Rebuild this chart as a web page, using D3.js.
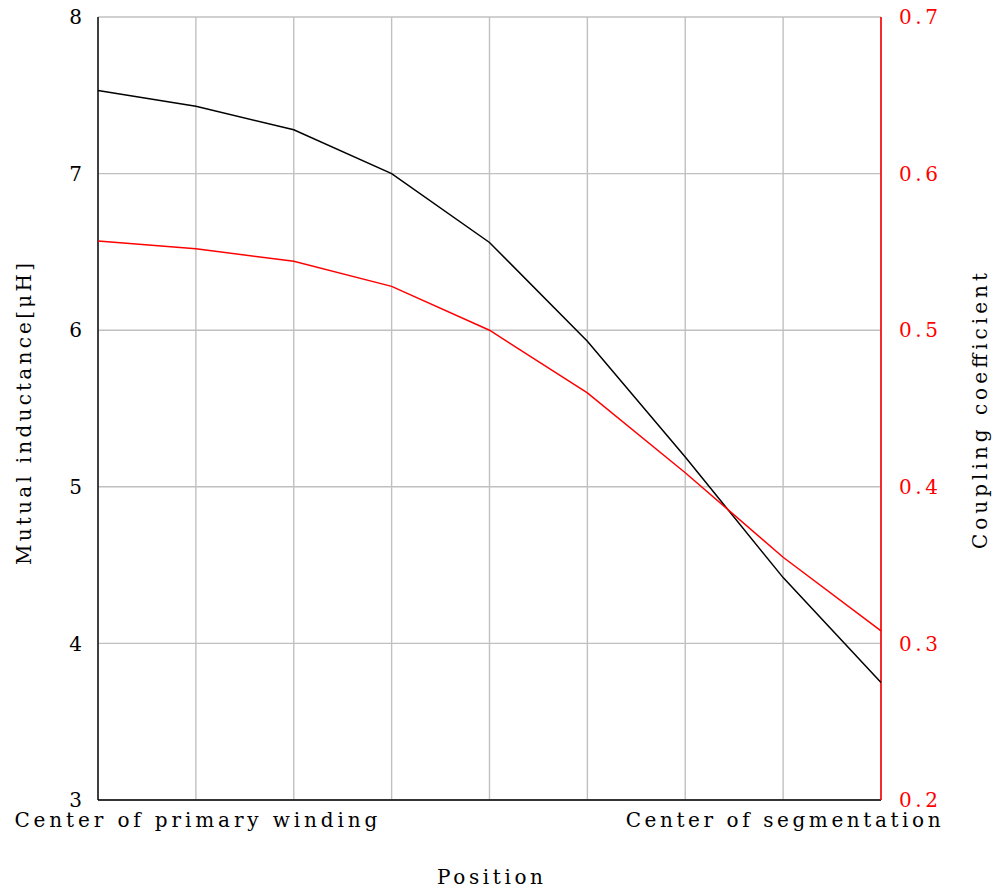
<!DOCTYPE html>
<html><head><meta charset="utf-8">
<script src="https://cdn.jsdelivr.net/npm/d3@7"></script>
<style>body{margin:0;background:#fff}text{font-family:"DejaVu Serif","Liberation Serif",serif}</style>
</head><body><svg id="c" width="995" height="891"></svg>
<script>
const positions = [0,1,2,3,4,5,6,7,8];
const mutualInductance = [7.53,7.43,7.28,7.00,6.56,5.93,5.19,4.42,3.75];
const couplingCoefficient = [0.557,0.552,0.544,0.528,0.500,0.460,0.409,0.355,0.308];
const leftTicks = [3,4,5,6,7,8];
const rightTicks = [0.2,0.3,0.4,0.5,0.6,0.7];
const xTickLabels = [[1,"Center of primary winding",363],[7,"Center of segmentation",315]];

const svg = d3.select("#c");
const L=98,R=881,T=17,B=800;
const x = d3.scaleLinear().domain([0,8]).range([L,R]);
const yl = d3.scaleLinear().domain([3,8]).range([B,T]);
const yr = d3.scaleLinear().domain([0.2,0.7]).range([B,T]);
const grid="#c0c0c0";
const FS=20;
// grid
svg.append("g").selectAll("line").data(positions).join("line")
 .attr("x1",d=>x(d)).attr("x2",d=>x(d)).attr("y1",T).attr("y2",B).attr("stroke",grid).attr("stroke-width",1.4);
svg.append("g").selectAll("line").data(leftTicks).join("line")
 .attr("x1",L).attr("x2",R).attr("y1",d=>yl(d)).attr("y2",d=>yl(d)).attr("stroke",grid).attr("stroke-width",1.4);
// axes lines
svg.append("line").attr("x1",L).attr("x2",L).attr("y1",T).attr("y2",B).attr("stroke","#000").attr("stroke-width",1.4);
svg.append("line").attr("x1",L).attr("x2",R).attr("y1",B).attr("y2",B).attr("stroke","#000").attr("stroke-width",1.4);
svg.append("line").attr("x1",R).attr("x2",R).attr("y1",T).attr("y2",B).attr("stroke","#f00").attr("stroke-width",1.6);
// tick labels
svg.append("g").selectAll("text").data(leftTicks).join("text")
 .attr("x",L-16).attr("y",d=>yl(d)).attr("dy","0.36em").attr("text-anchor","end")
 .attr("font-size",20).text(d=>d);
svg.append("g").selectAll("text").data(rightTicks).join("text")
 .attr("x",R+18).attr("y",d=>yr(d)).attr("dy","0.36em").attr("text-anchor","start")
 .attr("font-size",20).attr("fill","#f00").attr("textLength",39).attr("lengthAdjust","spacing").text(d=>d.toFixed(1));
svg.append("g").selectAll("text").data(xTickLabels).join("text")
 .attr("x",d=>x(d[0])-d[2]/2).attr("y",B+27).attr("text-anchor","start")
 .attr("font-size",FS).attr("textLength",d=>d[2]).attr("lengthAdjust","spacing").text(d=>d[1]);
// lines
const lineL = d3.line().x((d,i)=>x(positions[i])).y(d=>yl(d));
const lineR = d3.line().x((d,i)=>x(positions[i])).y(d=>yr(d));
svg.append("path").datum(mutualInductance).attr("d",lineL).attr("fill","none").attr("stroke","#000").attr("stroke-width",1.5);
svg.append("path").datum(couplingCoefficient).attr("d",lineR).attr("fill","none").attr("stroke","#f00").attr("stroke-width",1.5);
// axis titles
svg.append("text").attr("transform",`translate(31,${414+151}) rotate(-90)`).attr("text-anchor","start")
 .attr("font-size",FS).attr("textLength",302).attr("lengthAdjust","spacing").text("Mutual inductance[μH]");
svg.append("text").attr("transform",`translate(987,${411+138}) rotate(-90)`).attr("text-anchor","start")
 .attr("font-size",FS).attr("textLength",276).attr("lengthAdjust","spacing").text("Coupling coefficient");
svg.append("text").attr("x",437).attr("y",884).attr("text-anchor","start")
 .attr("font-size",FS).attr("textLength",106).attr("lengthAdjust","spacing").text("Position");
</script></body></html>
